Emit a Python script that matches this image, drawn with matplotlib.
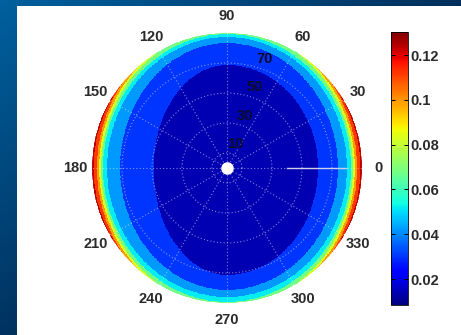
import numpy as np
import matplotlib
matplotlib.use("Agg")
import matplotlib.pyplot as plt
from matplotlib.colors import Normalize
from matplotlib.cm import ScalarMappable
from matplotlib.patches import Rectangle

# Colour value of each filled band, innermost band first
band_values = [0.014, 0.030, 0.042, 0.052, 0.068, 0.083, 0.099, 0.112, 0.124]

# Outer edge of bands 0..7, given as quadrant semi-axes (in radial units)
edge_right = [60.7, 74.0, 80.0, 82.7, 84.0, 85.3, 86.7, 89.0]
edge_left = [49.0, 71.3, 80.0, 82.7, 84.0, 85.3, 86.7, 89.0]
edge_top = [68.7, 83.3, 87.3, 89.3, 92.5, 94.0, 95.4, 92.2]
edge_bottom = [71.3, 81.3, 86.0, 89.3, 92.5, 94.0, 95.4, 92.2]

theta_ticks = list(range(0, 360, 30))
r_ticks = [10, 30, 50, 70]
r_max = 90
cbar_ticks = [0.02, 0.04, 0.06, 0.08, 0.10, 0.12]
cbar_labels = ["0.02", "0.04", "0.06", "0.08", "0.1", "0.12"]
c_min, c_max = 0.0084, 0.1303

# radial segment marked along the 0 degree direction
mark_r = [40, 79]

W, H = 461, 335
fig = plt.figure(figsize=(W / 100, H / 100), dpi=100)
fig.patch.set_facecolor("white")

# slide background: blue gradient frame with a white panel
bg = fig.add_axes([0, 0, 1, 1], zorder=-10)
bg.axis("off")
xs = np.linspace(0, 1, W)[None, :]
ys = np.linspace(0, 1, H)[:, None]
w = np.clip(1.0 - 0.75 * ys - 0.8 * xs, 0, 1)[..., None]
dark = np.array([0, 36, 76]) / 255.0
light = np.array([0, 96, 158]) / 255.0
img = dark + (light - dark) * w
bg.imshow(img, extent=[0, 1, 0, 1], aspect="auto", origin="upper")
bg.add_patch(Rectangle((17 / W, 0), 1 - 17 / W, (H - 6) / H,
                       transform=bg.transAxes, facecolor="white", edgecolor="none"))
bg.set_xlim(0, 1)
bg.set_ylim(0, 1)

norm = Normalize(vmin=c_min, vmax=c_max)
cmap = plt.get_cmap("jet")

# polar field built from the band edges
th_edges = np.linspace(0, 2 * np.pi, 721)
r_edges = np.linspace(0, r_max, 361)
th_c = 0.5 * (th_edges[:-1] + th_edges[1:])
r_c = 0.5 * (r_edges[:-1] + r_edges[1:])
TH, R = np.meshgrid(th_c, r_c)
X = R * np.cos(TH)
Y = R * np.sin(TH)
band = np.zeros(TH.shape, dtype=int)
for k in range(len(edge_right)):
    a = np.where(X >= 0, edge_right[k], edge_left[k])
    b = np.where(Y >= 0, edge_top[k], edge_bottom[k])
    outside = (X / a) ** 2 + (Y / b) ** 2 > 1
    band = np.where(outside, k + 1, band)
Z = np.array(band_values)[band]

cx, cy, rad = 227, 168, 135
ax = fig.add_axes([(cx - rad) / W, (H - cy - rad) / H, 2 * rad / W, 2 * rad / H],
                  projection="polar")
ax.set_facecolor("none")
ax.pcolormesh(th_edges, r_edges, Z, cmap=cmap, norm=norm, shading="flat",
              rasterized=True)
ax.set_ylim(0, r_max)
ax.set_thetagrids(theta_ticks, labels=[""] * len(theta_ticks))
ax.set_rticks(r_ticks)
ax.set_yticklabels([])
ax.set_axisbelow(False)
ax.grid(True, color="white", linestyle=(0, (1, 2)), linewidth=0.8, alpha=0.5)
ax.spines["polar"].set_visible(False)
ax.tick_params(length=0)

txt = dict(family="Liberation Sans", fontweight="bold", fontsize=10.5, color="#2a2a2a")
for t in theta_ticks:
    ax.text(np.deg2rad(t), 101, str(t), ha="center", va="center",
            clip_on=False, **txt)
for v in r_ticks:
    ax.text(np.deg2rad(71), v + 7, str(v), ha="center", va="center",
            family="Liberation Sans", fontweight="bold", fontsize=10.5,
            color="#0c0c28")

ax.plot([0, 0], mark_r, color="#d0d0e4", linewidth=1.0, zorder=4)
ax.plot([0], [0], "o", markersize=8, color="white", markeredgecolor="white",
        zorder=6, clip_on=False)

# colour bar
cax = fig.add_axes([391 / W, 30 / H, 17 / W, 273 / H])
sm = ScalarMappable(norm=norm, cmap=cmap)
cb = fig.colorbar(sm, cax=cax, ticks=cbar_ticks)
cb.set_ticklabels(cbar_labels)
cb.outline.set_linewidth(0.6)
cax.tick_params(direction="in", length=3, width=0.7, left=True, right=True,
                pad=2, labelsize=10.5, labelcolor="#2a2a2a")
for lab in cax.get_yticklabels():
    lab.set_family("Liberation Sans")
    lab.set_fontweight("bold")

fig.savefig("out.png", dpi=100)
